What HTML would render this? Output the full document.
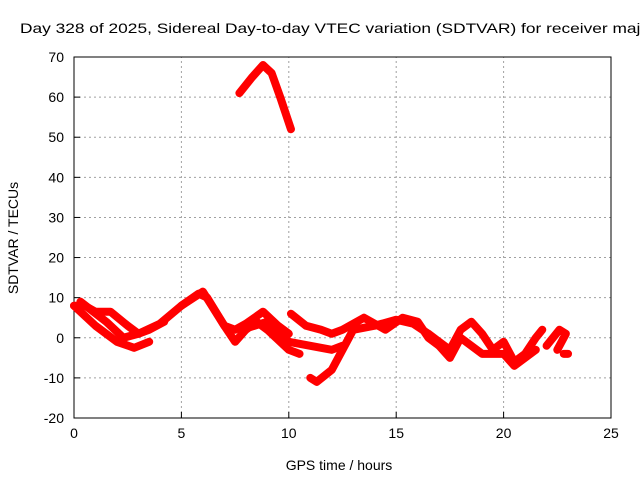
<!DOCTYPE html>
<html><head><meta charset="utf-8"><style>
html,body{margin:0;padding:0;background:#fff;overflow:hidden}
svg{display:block;font-family:"Liberation Sans",sans-serif}
</style></head><body>
<svg width="640" height="480" viewBox="0 0 640 480">
<rect width="640" height="480" fill="#fff"/>
<text x="20" y="33" font-size="14" textLength="630" lengthAdjust="spacingAndGlyphs" fill="#000">Day 328 of 2025, Sidereal Day-to-day VTEC variation (SDTVAR) for receiver maju</text>
<g id="grid"></g>
<g id="axes"></g>
<g id="series"></g>
<text x="339" y="470" font-size="14" text-anchor="middle">GPS time / hours</text>
<text transform="translate(18,238) rotate(-90)" font-size="14" text-anchor="middle">SDTVAR / TECUs</text>
</svg>
<script>
const xTicks=[0,5,10,15,20,25];
const yTicks=[-20,-10,0,10,20,30,40,50,60,70];
const traceTop=[[7.7,61],[8.3,65],[8.8,68],[9.2,66],[9.6,60],[10.1,52]];
const traceA=[[0,8],[0.5,8],[1,6.5],[1.7,6.5],[2.5,3],[3,1],[4,3.5],[5,8],[5.8,11],[6.2,10],[7,3],[7.5,2],[8,3.5],[8.8,6.5],[9.5,3],[10,1]];
const traceB=[[0,8],[1,3],[2,-1],[2.8,-2.5],[3.5,-1]];
const traceC=[[0.3,9],[1.5,4],[2.3,0],[3,1],[3.5,2],[4.2,4]];
const traceD=[[5,8],[6,11.5],[7,3],[7.5,-1],[8,2],[8.5,4],[9,2],[10,-3],[10.5,-4]];
const traceE=[[7.8,2],[9,4],[10,-1],[11,-2],[12,-3],[12.5,-2]];
const traceF=[[10.1,6],[10.8,3],[11.5,2],[12,1],[12.5,2],[13.5,5],[14.5,2],[15.3,5],[16,4],[16.5,0],[17,-2]];
const traceG=[[11,-10],[11.3,-11],[12,-8],[12.5,-3],[13,2],[14,3],[15,4.5],[15.8,3.5],[16.5,1]];
const traceH=[[16.5,1],[17,-1],[17.5,-3],[18,2],[18.5,4],[19,1],[19.5,-3],[20,-1],[20.5,-6],[21,-4],[21.5,0],[21.8,2]];
const traceI=[[17,-2],[17.5,-5],[18,0],[19,-4],[20,-4],[20.5,-7],[21,-5],[21.5,-3]];
const traceJ=[[22,-2],[22.3,0],[22.6,2],[22.9,1],[22.5,-3]];
const traceK=[[22.8,-4],[23,-4]];
const traces=[traceTop,traceA,traceB,traceC,traceD,traceE,traceF,traceG,traceH,traceI,traceJ,traceK];
const NS='http://www.w3.org/2000/svg';
const X0=74,X1=611,Y0=418,Y1=57;
function sx(v){return X0+(v-0)/(25-0)*(X1-X0);}
function sy(v){return Y0-(v+20)/(70+20)*(Y0-Y1);}
function mk(t,a,p){const e=document.createElementNS(NS,t);for(const k in a)e.setAttribute(k,a[k]);p.appendChild(e);return e;}
const grid=document.getElementById('grid'),axes=document.getElementById('axes'),ser=document.getElementById('series');
xTicks.forEach(t=>{
 if(t>0&&t<25){const l=mk('line',{x1:sx(t),x2:sx(t),y1:Y0,y2:Y1,stroke:'#a0a0a0','stroke-dasharray':'2,3'},grid);
 }
 const tk=mk('line',{x1:sx(t),x2:sx(t),y1:Y0,y2:Y0-6,stroke:'#000'},axes);
 
 const tx=mk('text',{x:sx(t),y:Y0+20,'font-size':14,'text-anchor':'middle'},axes);tx.textContent=t;
 
});
yTicks.forEach(t=>{
 if(t>-20&&t<70){const l=mk('line',{x1:X0,x2:X1,y1:sy(t),y2:sy(t),stroke:'#a0a0a0','stroke-dasharray':'2,3'},grid);
 }
 const tk=mk('line',{x1:X0,x2:X0+6,y1:sy(t),y2:sy(t),stroke:'#000'},axes);
 
 const tx=mk('text',{x:X0-10,y:sy(t)+5,'font-size':14,'text-anchor':'end'},axes);tx.textContent=t;
 
});
const fr=mk('rect',{x:X0,y:Y1,width:X1-X0,height:Y0-Y1,fill:'none',stroke:'#000'},axes);

traces.forEach(tr=>{
 const p=mk('polyline',{points:tr.map(d=>sx(d[0])+','+sy(d[1])).join(' '),fill:'none',stroke:'#ff0000','stroke-width':8,'stroke-linejoin':'round','stroke-linecap':'round'},ser);
 
});
</script>
</body></html>
